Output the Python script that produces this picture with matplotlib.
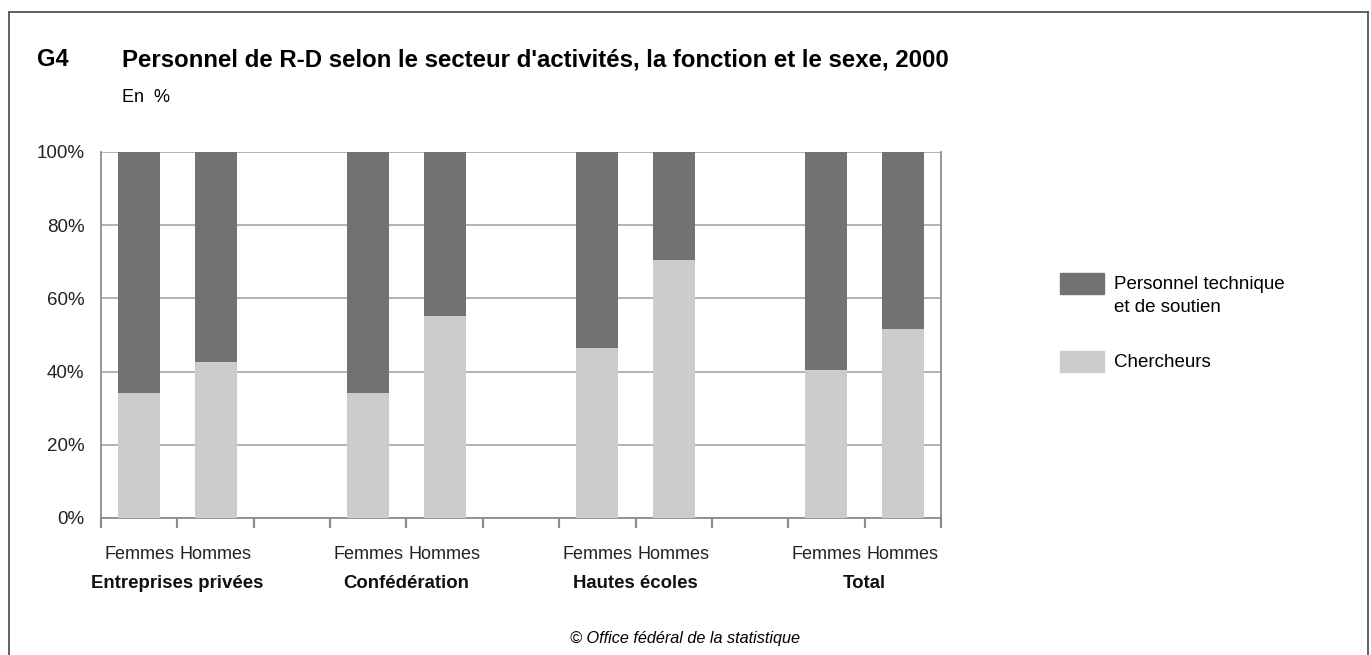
import matplotlib
matplotlib.use("Agg")
import matplotlib.pyplot as plt
from matplotlib.patches import Rectangle
from matplotlib.ticker import FixedLocator, PercentFormatter

plt.rcParams['font.family'] = ['Liberation Sans', 'DejaVu Sans']

# data (share in %)
groups = ["Entreprises privées", "Confédération", "Hautes écoles", "Total"]
sexes = ["Femmes", "Hommes"]
chercheurs = [34.2, 42.6, 34.2, 55.2, 46.4, 70.5, 40.4, 51.6]
technique = [65.8, 57.4, 65.8, 44.8, 53.6, 29.5, 59.6, 48.4]
series_names = ["Personnel technique\net de soutien", "Chercheurs"]

DARK = "#727272"
LIGHT = "#cccccc"
GRID = "#a6a6a6"
SPINE = "#8c8c8c"

W, H = 1371, 655
fig = plt.figure(figsize=(W / 100, H / 100), dpi=100)

# frame around the whole graphic (no bottom edge visible)
for xs, ys in [([9, 9], [655, 12]), ([9, 1368], [12, 12]), ([1368, 1368], [12, 655])]:
    fig.add_artist(plt.Line2D([x / W for x in xs], [1 - y / H for y in ys],
                              color="#555555", lw=1.3, transform=fig.transFigure))

ax = fig.add_axes([101 / W, 1 - 518 / H, (941 - 101) / W, (518 - 152) / H])

# bar positions: 3 slots per group, third slot left empty
pos = []
labels = []
for g in range(len(groups)):
    for s in range(len(sexes)):
        pos.append(g * 3 + s)
        labels.append(sexes[s])

bw = 0.55
ax.bar(pos, chercheurs, width=bw, color=LIGHT, zorder=3, label=series_names[1])
ax.bar(pos, technique, width=bw, bottom=chercheurs, color=DARK, zorder=3,
       label=series_names[0])

ax.set_xlim(-0.5, 10.5)
ax.set_ylim(0, 100)
ax.set_yticks(range(0, 101, 20))
ax.yaxis.set_major_formatter(PercentFormatter(decimals=0))
ax.grid(axis="y", color=GRID, lw=1.2, zorder=0)
ax.tick_params(axis="y", length=0, labelsize=13.5, pad=12, colors="#222222")

ax.xaxis.set_major_locator(FixedLocator([p - 0.5 for p in range(12)]))
ax.xaxis.set_minor_locator(FixedLocator(pos))
ax.set_xticklabels([])
ax.set_xticklabels(labels, minor=True)
ax.tick_params(axis="x", which="major", length=7, width=1.6, color=SPINE)
ax.tick_params(axis="x", which="minor", length=0, labelsize=13, pad=20.5, colors="#222222")

for side in ["left", "right", "bottom"]:
    ax.spines[side].set_color(SPINE)
    ax.spines[side].set_linewidth(1.3)
ax.spines["top"].set_visible(False)

for g, name in enumerate(groups):
    ax.text(g * 3 + 0.5, -0.18, name, transform=ax.get_xaxis_transform(),
            ha="center", va="center", fontsize=13.4, fontweight="bold", color="#111111")

# titles
fig.text(37 / W, 1 - 60 / H, "G4", fontsize=17, fontweight="bold", va="center")
fig.text(122 / W, 1 - 60 / H,
         "Personnel de R-D selon le secteur d'activités, la fonction et le sexe, 2000",
         fontsize=17.3, fontweight="bold", va="center")
fig.text(122 / W, 1 - 97 / H, "En  %", fontsize=13, va="center")
fig.text(0.5, 1 - 639 / H, "© Office fédéral de la statistique", fontsize=11.7,
         style="italic", ha="center", va="center")

# legend drawn by hand to match layout
for ytop, col in [(273, DARK), (351, LIGHT)]:
    fig.add_artist(Rectangle((1060 / W, 1 - (ytop + 21) / H), 44 / W, 21 / H,
                             color=col, transform=fig.transFigure))
fig.text(1114 / W, 1 - 285 / H, "Personnel technique", fontsize=13.5, va="center")
fig.text(1114 / W, 1 - 307 / H, "et de soutien", fontsize=13.5, va="center")
fig.text(1114 / W, 1 - 362 / H, series_names[1], fontsize=13.5, va="center")

fig.savefig("out.png", dpi=100)
